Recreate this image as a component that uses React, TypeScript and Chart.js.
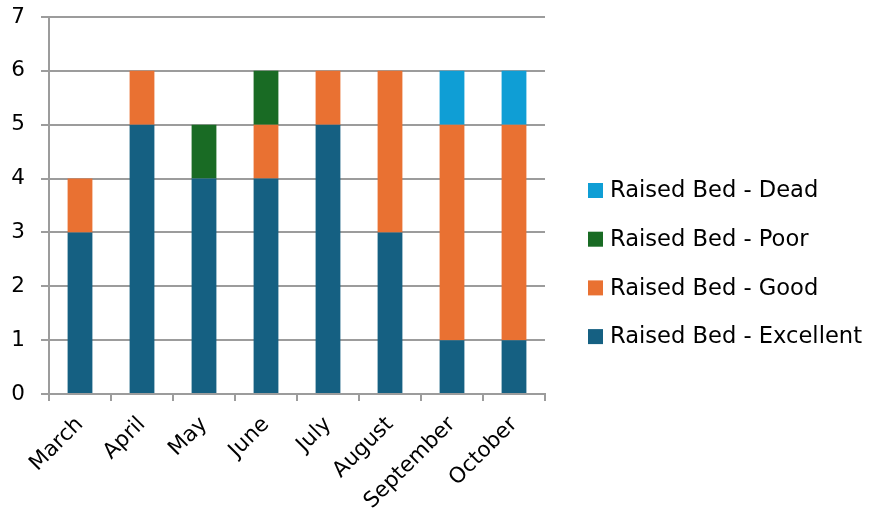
import React, { useEffect, useRef } from "react";
import { Chart, registerables } from "chart.js";

Chart.register(...registerables);

const months = ["March", "April", "May", "June", "July", "August", "September", "October"];
const excellent = [3, 5, 4, 4, 5, 3, 1, 1];
const good = [1, 1, 0, 1, 1, 3, 4, 4];
const poor = [0, 0, 1, 1, 0, 0, 0, 0];
const dead = [0, 0, 0, 0, 0, 0, 1, 1];
const seriesNames = ["Raised Bed - Excellent", "Raised Bed - Good", "Raised Bed - Poor", "Raised Bed - Dead"];
const seriesColors = ["#156082", "#E97132", "#196B24", "#0F9ED5"];
const yTicks = [0, 1, 2, 3, 4, 5, 6, 7];

const FONT = "'DejaVu Sans', sans-serif";
const GRID = "#9c9c9c";

const legendPlugin = {
  id: "customLegend",
  afterDraw(chart: any) {
    const ctx = chart.ctx;
    const ds = chart.data.datasets;
    const startY = 190.5;
    const step = 48.7;
    ctx.save();
    ctx.font = `22.6px ${FONT}`;
    ctx.textBaseline = "middle";
    ctx.textAlign = "left";
    for (let i = 0; i < ds.length; i++) {
      const d = ds[ds.length - 1 - i];
      const cy = startY + i * step;
      ctx.fillStyle = d.backgroundColor;
      ctx.fillRect(588, cy - 7.5, 15, 15);
      ctx.fillStyle = "#000000";
      ctx.fillText(d.label, 610, cy + 1);
    }
    ctx.restore();
  },
};

export default function App() {
  const ref = useRef<HTMLCanvasElement>(null);
  useEffect(() => {
    if (!ref.current) return;
    const values = [excellent, good, poor, dead];
    const chart = new Chart(ref.current, {
      type: "bar",
      data: {
        labels: months,
        datasets: values.map((v, i) => ({
          label: seriesNames[i],
          data: v,
          backgroundColor: seriesColors[i],
          borderWidth: 0,
          barPercentage: 0.4,
          categoryPercentage: 1,
        })),
      },
      options: {
        responsive: false,
        animation: false,
        layout: { padding: { top: 17, right: 324, left: 0, bottom: 0 } },
        plugins: { legend: { display: false }, tooltip: { enabled: false } },
        scales: {
          x: {
            stacked: true,
            grid: {
              display: true,
              drawOnChartArea: false,
              drawTicks: true,
              tickLength: 7,
              color: GRID,
              lineWidth: 2,
              offset: true,
            },
            border: { display: true, color: GRID, width: 2 },
            ticks: {
              color: "#000",
              font: { family: FONT, size: 21.5 },
              minRotation: 45,
              maxRotation: 45,
              padding: 11,
              autoSkip: false,
            },
            afterFit: (s: any) => {
              s.height = 122;
              s.paddingRight = 0;
            },
          },
          y: {
            stacked: true,
            min: 0,
            max: 7,
            grid: { color: GRID, lineWidth: 2, tickLength: 8, drawTicks: true },
            border: { display: true, color: GRID, width: 2 },
            afterBuildTicks: (s: any) => {
              s.ticks = yTicks.map((v) => ({ value: v }));
            },
            ticks: {
              color: "#000",
              font: { family: FONT, size: 21.5 },
              padding: 16,
            },
            afterFit: (s: any) => {
              s.width = 49;
              s.paddingTop = 0;
              s.paddingBottom = 0;
            },
          },
        },
      },
      plugins: [legendPlugin],
    });
    return () => chart.destroy();
  }, []);
  return (
    <div style={{ position: "fixed", left: 0, top: 0, width: 869, height: 516, background: "#fff" }}>
      <canvas ref={ref} width={869} height={516} />
    </div>
  );
}
